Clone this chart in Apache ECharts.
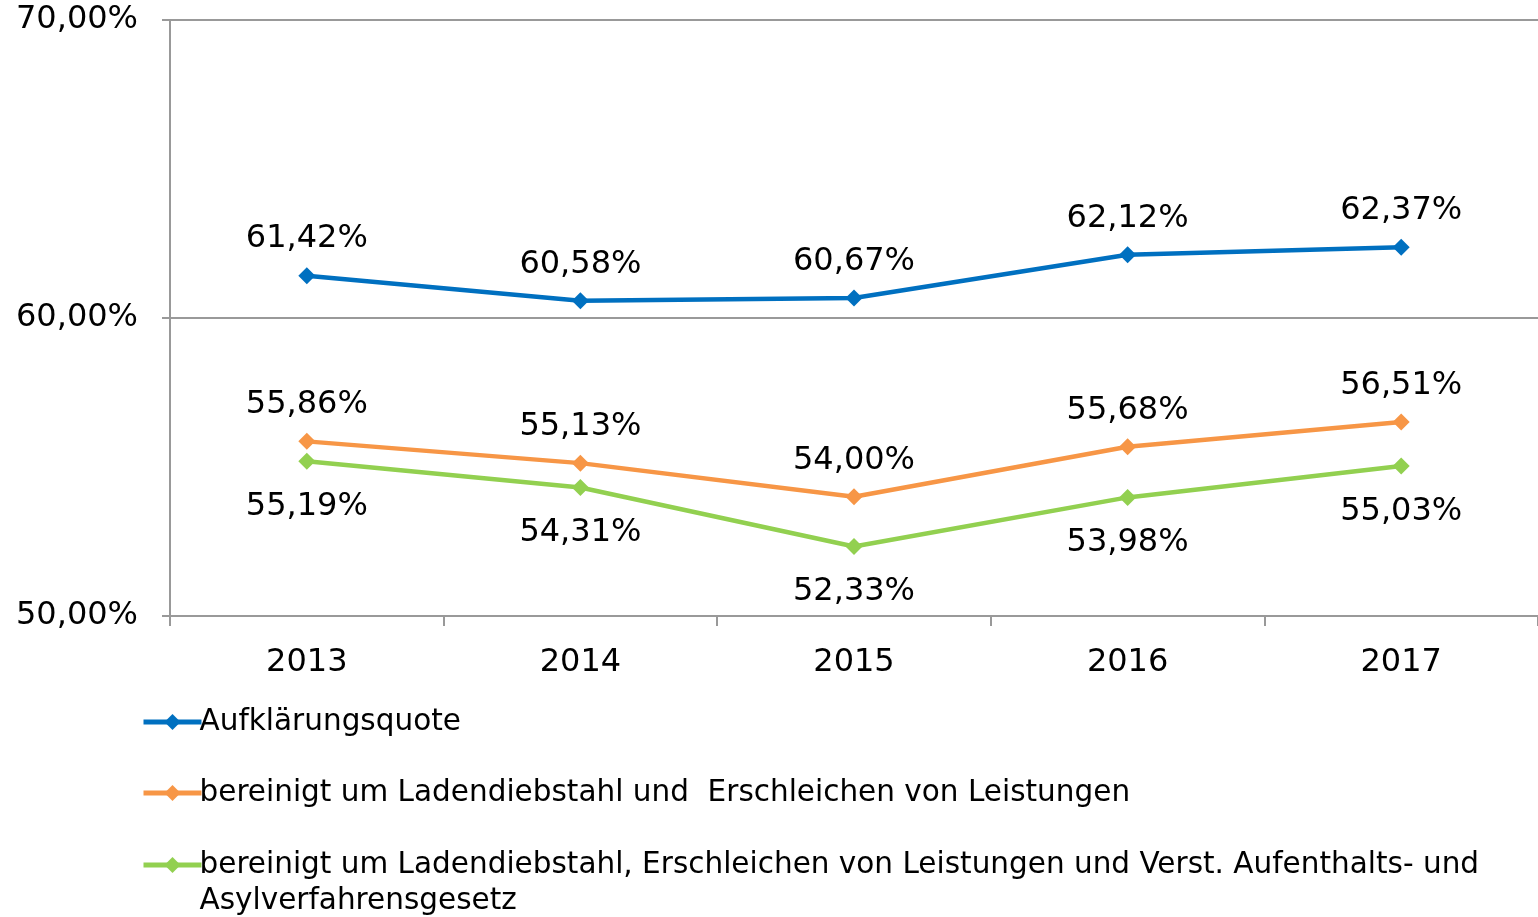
<!DOCTYPE html>
<html>
<head>
<meta charset="utf-8">
<script src="https://cdn.jsdelivr.net/npm/echarts@6/dist/echarts.min.js"></script>
<style>
html, body { margin: 0; padding: 0; background: #fff; }
#chart { width: 1538px; height: 917px; }
</style>
</head>
<body>
<div id="chart"></div>
<script>
var years = ['2013', '2014', '2015', '2016', '2017'];
var quote = [61.42, 60.58, 60.67, 62.12, 62.37];
var ohneLaden = [55.86, 55.13, 54.00, 55.68, 56.51];
var ohneAufenthalt = [55.19, 54.31, 52.33, 53.98, 55.03];
var names = [
    'Aufklärungsquote',
    'bereinigt um Ladendiebstahl und  Erschleichen von Leistungen',
    'bereinigt um Ladendiebstahl, Erschleichen von Leistungen und Verst. Aufenthalts- und Asylverfahrensgesetz'
];

var font = 'DejaVu Sans, Verdana, sans-serif';
function pct(v) {
    return v.toFixed(2).replace('.', ',') + '%';
}
function line(name, data, color, pos, dist) {
    return {
        name: name,
        type: 'line',
        data: data,
        symbol: 'diamond',
        symbolSize: 17,
        lineStyle: { width: 4.5, color: color },
        itemStyle: { color: color },
        label: {
            show: true,
            position: pos,
            distance: dist,
            color: '#000',
            fontFamily: font,
            fontSize: 32,
            formatter: function (p) { return pct(p.value); }
        },
        animation: false
    };
}
// one legend per series; the long one gets an empty first line so the
// icon stays level with its first text line
function legend(name, top, wrap) {
    return {
        orient: 'vertical',
        left: 141,
        top: top,
        padding: 0,
        itemWidth: 58,
        itemHeight: 20,
        lineStyle: { width: 5 },
        formatter: function (n) {
            return wrap ? ' \n' + n.replace(' und Asyl', ' und\nAsyl') : n;
        },
        textStyle: {
            fontFamily: font,
            fontSize: 29.5,
            color: '#000',
            padding: [0, 0, 0, -7],
            lineHeight: 36
        },
        data: [name]
    };
}

var chart = echarts.init(document.getElementById('chart'));
var option = {
    backgroundColor: '#fff',
    grid: { left: 170, right: 0, top: 20, bottom: 301 },
    legend: [
        legend(names[0], 704, false),
        legend(names[1], 775, false),
        legend(names[2], 811, true)
    ],
    xAxis: {
        type: 'category',
        data: years,
        boundaryGap: true,
        axisLine: { lineStyle: { color: '#999', width: 2 } },
        axisTick: { show: true, length: 10, lineStyle: { color: '#999', width: 2 } },
        axisLabel: { color: '#000', fontFamily: font, fontSize: 32, margin: 31 }
    },
    yAxis: {
        type: 'value',
        min: 50,
        max: 70,
        interval: 10,
        axisLine: { show: true, lineStyle: { color: '#999', width: 2 } },
        axisTick: { show: true, length: 8, lineStyle: { color: '#999', width: 2 } },
        splitLine: { lineStyle: { color: '#999', width: 2 } },
        axisLabel: {
            color: '#000',
            fontFamily: font,
            fontSize: 32,
            margin: 32,
            formatter: pct
        }
    },
    series: [
        line(names[0], quote, '#0070C0', 'top', 12),
        line(names[1], ohneLaden, '#F79646', 'top', 12),
        line(names[2], ohneAufenthalt, '#92D050', 'bottom', 21)
    ]
};
chart.setOption(option);
</script>
</body>
</html>
